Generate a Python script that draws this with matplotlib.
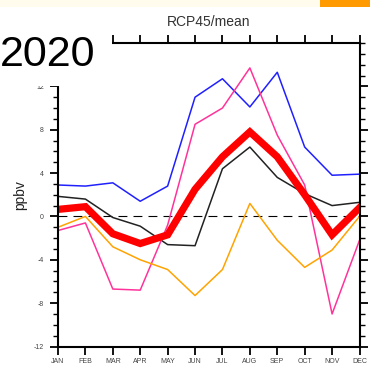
import matplotlib
matplotlib.use("Agg")
import matplotlib.pyplot as plt
from matplotlib.patches import Rectangle
from matplotlib.ticker import MultipleLocator

plt.rcParams["font.family"] = ["Liberation Sans", "DejaVu Sans"]
plt.rcParams["axes.unicode_minus"] = False

months = ["JAN", "FEB", "MAR", "APR", "MAY", "JUN",
          "JUL", "AUG", "SEP", "OCT", "NOV", "DEC"]

# monthly ozone change (ppbv) for each member and the ensemble mean
member_blue = [2.9, 2.8, 3.1, 1.4, 2.8, 11.0, 12.7, 10.1, 13.3, 6.4, 3.8, 3.9]
member_pink = [-1.3, -0.6, -6.7, -6.8, -0.8, 8.5, 10.0, 13.7, 7.5, 2.9, -9.0, -2.2]
member_orange = [-1.0, 0.0, -2.8, -4.0, -4.9, -7.3, -4.9, 1.2, -2.2, -4.7, -3.1, 0.0]
member_black = [1.85, 1.6, -0.1, -0.9, -2.6, -2.7, 4.4, 6.4, 3.6, 2.1, 1.0, 1.3]
ens_mean = [0.65, 0.9, -1.6, -2.5, -1.7, 2.5, 5.5, 7.8, 5.5, 2.0, -1.7, 0.8]

yticks = [-12, -8, -4, 0, 4, 8, 12]

fig = plt.figure(figsize=(3.7, 3.67), dpi=100)
ax = fig.add_axes([58 / 370, 20.5 / 367, 301.5 / 370, 303.5 / 367])

x = list(range(len(months)))
ax.plot(x, [0] * len(x), color="black", lw=0.8, dashes=(8, 5.5))
ax.plot(x, member_black, color="#222222", lw=1.1)
ax.plot(x, member_blue, color="#2020ff", lw=1.1)
ax.plot(x, member_pink, color="#ff3399", lw=1.1)
ax.plot(x, member_orange, color="#ffa300", lw=1.1)
ax.plot(x, ens_mean, color="#ff0000", lw=5.2, solid_joinstyle="miter")

ax.set_xlim(0, 11)
ax.set_ylim(-12, 16)
ax.set_xticks(x)
ax.set_xticklabels(months)
ax.set_yticks(yticks)
ax.yaxis.set_minor_locator(MultipleLocator(1))

for s in ax.spines.values():
    s.set_linewidth(1.5)
ax.tick_params(axis="both", which="major", direction="out", length=6, width=1.3,
               labelsize=5, labelcolor="#444444", top=True, right=True)
ax.tick_params(axis="y", which="minor", direction="out", length=3.5, width=1,
               right=True)
ax.tick_params(axis="x", which="major", pad=2)
ax.tick_params(axis="y", which="major", pad=4)

ax.set_ylabel("ppbv", fontsize=10, color="#222222", labelpad=5)
ax.set_title("RCP45/mean", fontsize=10, color="#333333", pad=12)

# header strip and year label
fig.patches.append(Rectangle((0, 1 - 7 / 367), 1, 7 / 367, transform=fig.transFigure,
                             facecolor="#fffcee", edgecolor="none", zorder=5))
fig.patches.append(Rectangle((320 / 370, 1 - 7 / 367), 50 / 370, 7 / 367,
                             transform=fig.transFigure, facecolor="#ff9a00",
                             edgecolor="none", zorder=6))
fig.patches.append(Rectangle((0, 1 - 86 / 367), 112 / 370, 79 / 367,
                             transform=fig.transFigure, facecolor="white",
                             edgecolor="none", zorder=5))
fig.text(0, 1 - 66 / 367, "2020", fontsize=31, color="black",
         va="baseline", ha="left", zorder=7)

fig.savefig("out.png", dpi=100)
